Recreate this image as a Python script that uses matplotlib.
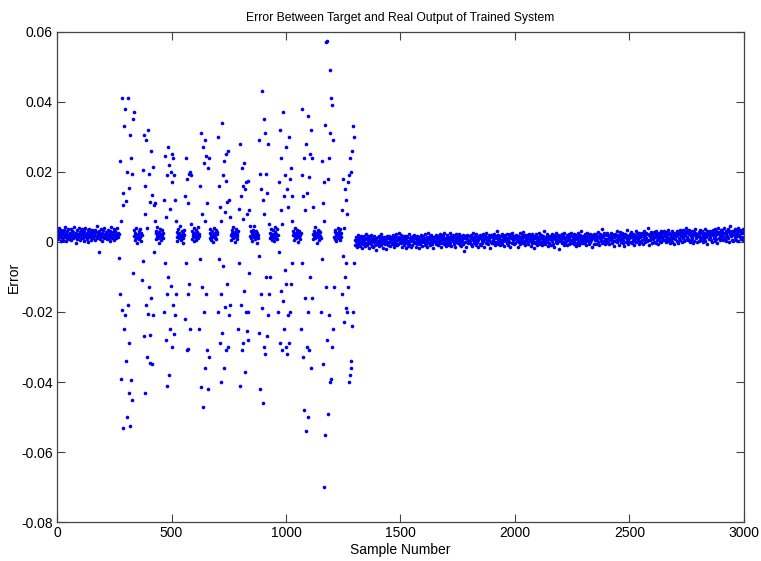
import matplotlib.pyplot as plt
import numpy as np

plt.rcParams['font.family'] = ['Liberation Sans', 'DejaVu Sans']

# error values in units of 1e-4
# samples 1..269, every 2nd sample
left_err = [
    22, 9, 31, 17, 40, 13, 26, 4, 19, 35, 11, 24, 28, 7, 20, 33, 15, 42, 18, 2, 25, 30, 12, 21, 37, 16, 8,
    27, 14, 38, 19, 6, 23, 32, 10, 29, 17, 44, 13, 21, -3, 26, 18, 34, 9, 24, 15, 39, 20, 5, 28, 12, 31, 22,
    16, 36, 11, 25, 3, 30, 19, 41, 14, 22, 8, 27, 33, 17, 1, 24, 38, 13, 29, 20, 6, 35, 15, 26, 10, 32, 18,
    23, 7, 34, 16, 28, 12, 45, 20, 25, -30, 14, 31, 9, 22, 37, 18, 4, 27, 15, 33, 11, 24, 40, 19, 13, 29, 21,
    8, 26, 17, 35, 12, 23, 2, 30, 19, 43, 14, 25, 10, 28, 21, 36, 6, 18, 32, 15, 24, 11, 39, 20, 27, 13, 22,
]

# samples 272..1298, every 2nd sample (oscillating part)
mid_err = [
    -45, 230, -150, 60, -390, 410, -195, 105, -530, 140, -250, 330, -210, 380, -340, 118,
    -500, 200, -180, 410, -430, 155, -290, 305, -525, 240, -395, 195, -450, 350, -90, 372,
    18, 34, 5, 27, 12, 41, 20, -3, 24, 15, 30, 9, 22, 38, 14, 26, 2, 19,
    -110, 205, -55, 305, -270, 80, -430, 160, -180, 290, -330, 40, -205, 320, -130, 195,
    -345, 115, -265, 260, -160, 135, -350, 215, -210, 105, -30, 110, 60,
    25, 8, 31, 16, 44, 12, 21, -2, 28, 17, 36, 6, 23, 13, 33, 19, 10, 27,
    -200, 120, -60, 245, -280, 70, -410, 190, -150, 270, -100, 220, -380, 95, -250, 200,
    -125, 250, -300, 170, -180, 240, -262, 190, -210, 120, -150, 60,
    14, 29, 3, 22, 37, 11, 25, 18, 46, 7, 20, 32, 15, -4, 26, 12, 35, 21,
    -220, 130, -60, 240, -310, 180, -150, 110, -305, 195, -120, 200, -250, 190, 50,
    30, 9, 24, 16, 39, 2, 27, 13, 21, 34, 6, 19, 28, 11, 42, 17, 23,
    -250, 160, -50, 310, -415, 80, -130, 270, -470, 225, -200, 60, -360, 290, -150, 245,
    -310, 110, -420, 210, -330, 240,
    12, 27, 36, 5, 20, 15, 31, 24, -1, 18, 40, 10, 26, 14, 33, 8, 22, 29,
    -200, 300, -50, 160, -290, 100, -400, 60, -150, 340, -260, 190, -70, 230, -360, 85,
    -185, 250, -310, 175, -120, 115, -300, 260, -210, 120, -180, 70,
    21, 6, 33, 17, 26, 11, 43, 14, 24, 1, 29, 19, 37, 9, 23, 16, 31,
    -250, 95, -60, 280, -410, 130, -180, 210, -310, 65, -290, 160, -140, 225, -370, 150,
    -200, 170, -255, 80, -280, 175, -200, 90, -90, 45,
    16, 30, 10, 25, 4, 35, 19, 27, 13, 45, 8, 22, 31, 17, -3, 26, 20, 12,
    -260, 290, -40, 195, -420, 150, -150, 430, -190, 120, -460, 350, -300, 80, -320, 310,
    -100, 195, -270, 140, -210, 280, -150, 50, -100,
    27, 12, 38, 18, 7, 24, 33, 15, 21, 2, 29, 44, 11, 23, 17, 36, 9, 20,
    -200, 170, -30, 320, -290, 90, -140, 240, -310, 50, -170, 370, -250, 130, -80, 190,
    -300, 270, -120, 150, -320, 100, -210, 300, -290, 180, -200, 210, -120, 130, -60, 60,
    19, 32, 6, 25, 14, 41, 22, 10, 28, 17, 35, 0, 24, 13, 30, 21, 8, 26,
    -250, 190, -60, 380, -330, 130, -480, 240, -160, 90, -540, 280, -300, 140, -200, 360,
    -500, 185, -310, 250, -100, 320, -360, 240, -160, 100,
    23, 9, 30, 16, 43, 12, 27, 19, -2, 25, 35, 14, 21, 7, 32, 18, 28, 11,
    -200, 230, -50, 110, -350, 60, -700, 170, -550, 335, -130, 570, 575, -280, 180, -490,
    240, -210, 490, -400, 310, -390, 410, -300, 390, -250, 290, -130,
    15, 28, 8, 34, 20, 3, 26, 17, 39, 12, 23, 30, 6, 21, 36, 14, 25,
    -150, 90, -40, 180, -230, 40, -100, 150, -60, 120, -190, 80, -200, 170, -130, -400,
    190, -380, 240, -360, 200, -340, 260, -240, 330, -200, 300, -60,
]

# samples 1300..2998, every 2nd sample
right_err = [
    7, -8, 15, 3, -14, 11, -2, 20, -6, 5, 13, -11, 1, 18, -4, 9, -18, 12, 4, -7, 16, 0, 8, -12, 22,
    -4, 11, -10, 5, 16, -2, 9, -17, 13, 1, -6, 20, -11, 7, 3, -14, 12, -1, 18, -8, 6, -22, 10, 2, -5,
    13, -7, 3, 18, -12, 8, -1, 22, -9, 5, 15, -4, -16, 10, 1, 14, -6, 9, -20, 4, 17, -3, 11, -10, 0,
    -1, 17, -12, 8, 2, 13, -7, 5, 20, -4, 10, -14, 15, 3, -9, 24, -2, 7, -10, 14, -5, 9, 26, 0, 11,
    10, -4, 21, -13, 5, 12, -1, 16, -8, 7, 1, 18, -17, 9, 14, -3, 4, -11, 22, -6, 11, 2, -15, 15, 6,
    -9, 9, 4, 16, -4, 21, 1, 11, -13, 14, 7, -6, 18, -1, 10, -18, 13, 6, -7, 20, 0, 15, 2, -11, 8,
    17, -1, 12, -8, 23, 5, -5, 14, 2, -14, 10, 26, -3, 8, 16, -10, 4, 19, -6, 11, 1, 13, -17, 7, 15,
    4, 15, -6, 21, -1, 10, 17, -10, 8, 13, 1, 23, -4, 6, -14, 16, 11, -2, 19, -7, 7, 25, 0, 12, -11,
    -5, 8, 20, 0, 14, -9, 11, 5, 26, -3, 17, -12, 7, 12, 2, 19, -6, 15, 3, -15, 10, 22, -1, 13, 6,
    14, -3, 7, 23, -8, 12, 0, 18, -11, 9, 4, 21, -5, 15, -26, 10, 16, 1, 13, -13, 8, 20, -2, 5, 17,
    -1, 18, 4, -6, 21, 10, -11, 14, 7, 25, -3, 12, 2, 17, -8, 8, 23, 0, 13, 5, -14, 16, 11, -5, 20,
    11, -9, 16, 7, -2, 22, 3, 13, -13, 18, 9, -4, 26, 4, 15, 0, 10, -7, 19, 6, -16, 14, 1, 21, -3,
    20, 6, -4, 15, 1, 24, -8, 10, 17, -1, 13, 31, -6, 8, 19, 3, 12, -10, 16, 5, -2, 22, -5, 7, 14,
    2, 15, -11, 12, 19, 4, 10, -4, 24, 7, -8, 17, 13, 1, 22, -14, 11, 16, -2, 26, 5, 18, -6, 9, 14,
    17, -3, 10, 21, 3, 14, -13, 18, 6, -1, 25, 11, -6, 15, 2, 20, 8, -4, 29, 0, 13, -9, 19, 4, 12,
    5, 20, -1, 16, -7, 9, 23, 2, 13, -11, 18, 7, -4, 22, 4, 11, -16, 17, 10, -2, 24, 1, 15, -8, 8,
    14, 1, 26, 6, -5, 19, -1, 12, 21, -10, 10, 3, 17, -3, 30, 8, -7, 15, 5, 23, 0, 13, -12, 18, 9,
    -2, 18, 8, -9, 15, 24, 3, 11, -6, 20, 13, -14, 9, 17, 0, 25, 6, -4, 19, 2, 14, -21, 16, 11, 4,
    19, 5, -4, 22, 10, 1, 17, -8, 27, 8, -2, 15, 4, 21, -10, 13, 7, -5, 24, 11, 2, 18, -3, 25, 6,
    5, 17, 13, -6, 24, 1, 15, 8, -11, 19, 10, -2, 27, 4, 16, -8, 12, 21, 0, 9, 30, -4, 14, 2, 18,
    12, -4, 22, 9, 0, 18, -9, 26, 7, 14, 3, 20, -5, 11, 24, -1, 16, 5, -13, 19, 10, 15, -7, 23, 6,
    17, 11, -5, 22, 5, 14, 29, -1, 18, -9, 10, 24, 2, 16, 7, 38, -2, 13, 20, 3, 26, -7, 9, 19, 0,
    1, 25, 9, -2, 20, 13, -7, 17, 6, 27, 14, -4, 22, 10, 2, 19, -11, 15, 23, 4, 18, 7, 30, -1, 12,
    21, 5, 17, -8, 28, 9, 19, 1, 25, 12, -4, 22, 6, 16, -12, 23, 13, -1, 20, 8, 34, 3, 18, -5, 15,
    11, 23, 1, 15, 28, -4, 19, 5, 24, 10, -8, 21, 16, 3, 30, -1, 12, 25, 8, 18, -5, 27, 2, 14, 20,
    1, 18, 27, 6, 22, -5, 15, 32, 9, 20, -1, 26, 12, 3, 24, 40, 7, 19, -8, 23, 16, 5, 29, 10, -2,
    22, 9, 17, 29, 1, 26, 14, -3, 20, 32, 5, 23, -6, 15, 27, 10, 21, 3, 31, 18, -1, 25, 12, 7, 28,
    17, 31, 5, 22, 13, -1, 28, 20, 9, 35, 3, 25, 12, -3, 23, 18, 7, 30, 1, 14, 27, 10, 21, -7, 24,
    9, 25, 16, 2, 30, 20, -3, 27, 12, 22, 33, 5, 17, 28, 0, 23, 10, 35, 14, 4, 26, 19, 7, 31, 40,
    29, 15, 5, 27, 9, 34, 22, 0, 25, 17, 7, 31, 12, 23, -4, 28, 19, 4, 26, 38, 10, 21, -1, 24, 16,
    22, 3, 29, 19, 12, 34, 7, 25, 15, 31, -1, 21, 27, 9, 36, 17, 4, 24, 14, 30, -5, 26, 20, 8, 28,
    14, 32, 25, 6, 22, 29, 1, 19, 34, 12, 27, 3, 36, 17, 8, 30, 23, -2, 26, 41, 11, 28, 7, 20, 33,
    29, 11, 20, 34, 5, 25, 39, 14, 27, 8, 32, 22, 3, 28, 17, 36, 10, 30, 0, 23, 45, 16, 26, 7, 31,
    22, 28, 4, 31, 19, 11, 36, 24, 7, 33, 16, 27, 39, 2, 30, 21, 13, 34, 9, 25, 29, 15, 38, 6, 26,
]

x_ticks = [0, 500, 1000, 1500, 2000, 2500, 3000]
y_ticks = [-0.08, -0.06, -0.04, -0.02, 0, 0.02, 0.04, 0.06]
y_labels = ['-0.08', '-0.06', '-0.04', '-0.02', '0', '0.02', '0.04', '0.06']

x_left = np.arange(1, 1 + 2 * len(left_err), 2)
x_mid = np.arange(272, 272 + 2 * len(mid_err), 2)
x_right = np.arange(1300, 1300 + 2 * len(right_err), 2)

sample = np.concatenate([x_left, x_mid, x_right])
err = np.concatenate([left_err, mid_err, right_err]) * 1e-4

fig = plt.figure(figsize=(7.61, 5.61), dpi=100)
ax = fig.add_axes([0.075, 0.0695, 0.9025, 0.8735])

ax.plot(sample, err, 'o', color='#0000f0', ms=2.6, mew=0)

ax.set_xlim(0, 3000)
ax.set_ylim(-0.08, 0.06)
ax.set_xticks(x_ticks)
ax.set_yticks(y_ticks)
ax.set_yticklabels(y_labels)
ax.tick_params(direction='in', length=6, top=True, right=True,
               labelsize=10, color='#444444', pad=3)
for s in ax.spines.values():
    s.set_color('#444444')
    s.set_linewidth(0.9)

ax.set_title('Error Between Target and Real Output of Trained System', fontsize=8.7, pad=8)
ax.set_xlabel('Sample Number', fontsize=10, labelpad=2)
ax.set_ylabel('Error', fontsize=10, labelpad=0)

fig.savefig('out.png', dpi=100)
